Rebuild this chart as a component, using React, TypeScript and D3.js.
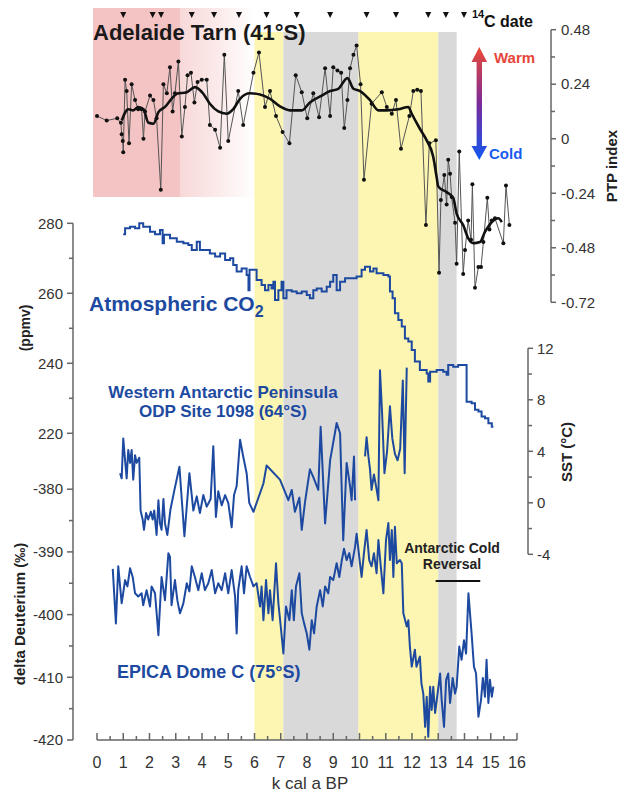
import React from 'react';
import * as d3 from 'd3';

// ---------- data (age in kyr cal BP, value) ----------
const ageTicks = d3.range(0, 17);
const ageMinorTicks = d3.range(0.5, 16, 1);

const radiocarbonDates = [1.0, 2.12, 2.44, 3.61, 4.46, 5.41, 6.46, 7.61, 8.88, 10.27, 11.39, 12.62, 13.29, 13.98];

const warmInterval: [number, number] = [-0.15, 6.0];
const yellowBands: [number, number][] = [[6.0, 7.1], [9.95, 13.0]];
const grayBands: [number, number][] = [[7.1, 9.95], [13.0, 13.7]];

const ptpTicks = [0.48, 0.24, 0, -0.24, -0.48, -0.72];
const ptpTickLabels = ['0.48', '0.24', '0', '-0.24', '-0.48', '-0.72'];
const ptpMinorTicks = [0.36, 0.12, -0.12, -0.36, -0.6];

const co2Ticks = [280, 260, 240, 220];
const co2MinorTicks = [270, 250, 230];
const deutTicks = [-380, -390, -400, -410, -420];
const deutMinorTicks = [-385, -395, -405, -415];
const sstTicks = [12, 8, 4, 0, -4];
const sstMinorTicks = [10, 6, 2, -2];

const ptpRecord: [number, number][] = [
  [0.0, 0.10], [0.37, 0.08], [0.77, 0.09], [0.91, 0.07], [0.94, 0.02], [0.98, -0.01], [1.0, -0.06],
  [1.07, 0.26], [1.13, 0.21], [1.22, -0.02], [1.32, 0.24], [1.45, 0.17], [1.57, 0.13], [1.70, 0.13],
  [1.77, 0.0], [1.83, 0.12], [2.02, 0.19], [2.15, 0.17], [2.27, 0.09], [2.43, -0.225], [2.53, 0.24],
  [2.66, 0.20], [2.78, 0.315], [2.88, 0.12], [2.97, 0.20], [3.10, 0.34], [3.23, 0.01], [3.35, 0.14],
  [3.45, 0.28], [3.58, 0.29], [3.71, 0.16], [3.83, 0.25], [3.99, 0.26], [4.18, 0.26], [4.30, 0.06],
  [4.50, 0.04], [4.69, -0.04], [4.85, 0.37], [5.00, -0.01], [5.38, 0.21], [5.57, 0.06], [5.96, 0.29],
  [6.17, 0.38], [6.40, 0.14], [6.59, 0.21], [6.82, 0.10], [7.07, 0.03], [7.33, -0.02], [7.57, 0.28],
  [7.80, 0.205], [8.01, 0.09], [8.24, 0.20], [8.46, 0.095], [8.69, 0.31], [8.88, 0.10], [9.00, 0.315],
  [9.16, 0.30], [9.30, 0.29], [9.42, 0.047], [9.54, 0.17], [9.64, 0.31], [9.77, 0.37], [9.89, 0.41],
  [10.04, 0.24], [10.17, -0.18], [10.46, 0.154], [10.85, 0.205], [11.04, 0.14], [11.23, 0.11],
  [11.39, 0.17], [11.58, -0.044], [11.90, 0.10], [12.05, 0.21], [12.20, 0.216], [12.34, 0.21],
  [12.53, -0.38], [12.66, -0.02], [12.91, -0.007], [13.03, -0.59], [13.10, -0.27], [13.23, -0.16],
  [13.32, -0.29], [13.38, -0.093], [13.45, -0.154], [13.51, -0.257], [13.64, -0.37], [13.70, -0.55],
  [13.80, -0.056], [13.95, -0.595], [14.02, -0.49], [14.14, -0.36], [14.25, -0.445], [14.30, -0.20],
  [14.40, -0.656], [14.53, -0.565], [14.63, -0.565], [14.72, -0.455], [14.87, -0.26], [14.95, -0.40],
  [15.04, -0.36], [15.16, -0.35], [15.48, -0.46], [15.58, -0.206], [15.71, -0.38],
];

const ptpSmoothed: [number, number][] = [
  [0.94, 0.08], [1.19, 0.13], [1.38, 0.125], [1.57, 0.14], [1.77, 0.13], [1.96, 0.07], [2.15, 0.066],
  [2.34, 0.117], [2.59, 0.14], [2.84, 0.176], [3.04, 0.198], [3.42, 0.205], [3.73, 0.227], [4.05, 0.198],
  [4.30, 0.154], [4.62, 0.12], [4.94, 0.11], [5.19, 0.13], [5.45, 0.176], [5.83, 0.20], [6.21, 0.195],
  [6.59, 0.176], [6.97, 0.142], [7.35, 0.125], [7.80, 0.125], [8.11, 0.16], [8.50, 0.186], [8.88, 0.21],
  [9.19, 0.22], [9.54, 0.267], [9.77, 0.22], [10.02, 0.21], [10.40, 0.17], [10.72, 0.125], [11.04, 0.125],
  [11.48, 0.13], [11.86, 0.14], [11.99, 0.11], [12.30, 0.044], [12.56, -0.007], [12.81, -0.08],
  [12.94, -0.17], [13.0, -0.21], [13.32, -0.235], [13.57, -0.26], [13.70, -0.33], [13.95, -0.38],
  [14.15, -0.44], [14.34, -0.46], [14.59, -0.455], [14.78, -0.41], [15.04, -0.367], [15.29, -0.35],
  [15.42, -0.367],
];

const co2Record: [number, number][] = [
  [1.0, 276.9], [1.07, 278.6], [1.26, 279], [1.45, 278.6], [1.61, 280], [1.76, 279], [2.02, 277.6],
  [2.21, 276.9], [2.40, 278.1], [2.50, 274.3], [2.55, 276.7], [2.78, 275.7], [3.04, 274.7], [3.29, 274.3],
  [3.48, 273.8], [3.61, 272.4], [3.80, 274.7], [3.92, 272.4], [4.11, 272.4], [4.30, 271.4], [4.50, 270.5],
  [4.69, 271.4], [4.88, 269.5], [5.07, 270], [5.19, 268.1], [5.32, 266.2], [5.51, 267.1], [5.70, 265.2],
  [5.77, 260.9], [5.81, 266.7], [5.96, 266.7], [6.08, 263.8], [6.27, 262.4], [6.40, 260.9], [6.53, 262.4],
  [6.65, 261.4], [6.72, 263.3], [6.78, 258.1], [6.91, 260.9], [7.03, 263.3], [7.10, 258.6], [7.22, 260.9],
  [7.42, 260.5], [7.61, 260], [7.80, 260.5], [7.99, 259.5], [8.11, 258.6], [8.24, 260.9], [8.37, 261.4],
  [8.56, 260.5], [8.75, 261.9], [8.88, 263.3], [9.0, 265.2], [9.13, 260.9], [9.26, 263.3], [9.45, 264.3],
  [9.64, 264.3], [9.89, 264.8], [10.08, 266.7], [10.21, 267.6], [10.40, 266.2], [10.53, 267.1],
  [10.65, 265.7], [10.91, 265.2], [11.10, 264.8], [11.16, 260.5], [11.26, 258.6], [11.35, 254.3],
  [11.48, 252.4], [11.61, 250.5], [11.73, 247.1], [11.86, 246.2], [11.99, 243.8], [12.11, 240.5],
  [12.30, 238.1], [12.56, 237.1], [12.62, 234.8], [12.69, 237.6], [12.94, 238.1], [13.19, 237.6],
  [13.32, 236.7], [13.38, 239.5], [13.57, 239], [13.76, 239.5], [14.06, 239.5], [14.08, 229],
  [14.27, 228.6], [14.40, 226.7], [14.53, 226.2], [14.65, 224.8], [14.78, 224.3], [14.91, 222.9],
  [15.04, 221.9], [15.10, 221.9],
];

const sstHolocene: [number, number][] = [
  [0.88, 2.3], [0.94, 1.9], [1.0, 5.0], [1.07, 3.3], [1.13, 1.9], [1.19, 4.1], [1.26, 3.1], [1.32, 4.1],
  [1.38, 1.8], [1.45, 3.7], [1.51, 3.1], [1.61, 3.5], [1.66, -0.6], [1.74, -1.3], [1.79, -2.1], [1.87, -0.8],
  [1.95, -1.3], [2.05, -0.7], [2.12, -1.3], [2.18, -0.6], [2.27, -2.5], [2.34, 0.2], [2.40, -1.6],
  [2.46, -2.1], [2.53, 0.3], [2.59, -1.6], [2.68, -2.5], [2.80, -0.5], [2.95, 1.0], [3.14, 2.8],
  [3.33, -2.6], [3.52, 2.3], [3.67, -0.6], [3.80, 0.5], [3.92, -0.8], [4.05, 0.6], [4.18, -0.3],
  [4.33, 0.3], [4.43, 4.4], [4.53, -1.1], [4.62, 0.9], [4.75, -0.2], [4.88, 0.6], [5.0, 0.0], [5.13, -1.9],
  [5.22, 0.6], [5.32, 1.3], [5.45, 4.9], [5.57, 3.6], [5.70, 2.3], [5.80, 0.0], [5.96, -0.7], [6.34, 1.5],
  [6.46, 2.9], [6.97, 1.8], [7.29, 0.2], [7.42, 1.0], [7.54, -0.7], [7.71, 0.4], [7.80, -2.1], [7.92, 0.0],
  [8.11, 2.6], [8.24, 2.0], [8.43, 1.0], [8.52, 5.9], [8.69, -1.6], [8.88, 3.3], [9.13, 6.2], [9.26, 5.4],
  [9.38, -2.9], [9.51, 3.1], [9.64, 1.3], [9.70, 0.2], [9.79, 3.6], [9.83, 0.2],
];

const sstDeglacial: [number, number][] = [
  [10.21, 3.6], [10.27, 5.1], [10.34, 3.6], [10.40, 2.6], [10.46, 1.0], [10.55, 2.2], [10.63, 1.3],
  [10.72, 0.2], [10.78, 10.3], [10.86, 7.0], [10.95, 2.3], [11.05, 4.0], [11.16, 7.5], [11.25, 5.0],
  [11.35, 3.8], [11.45, 3.3], [11.55, 4.2], [11.65, 9.5], [11.72, 2.3], [11.80, 10.5],
];

const deuteriumRecord: [number, number][] = [
  [0.60, -392.7], [0.72, -401.4], [0.81, -392.3], [0.94, -398.2], [1.07, -394.5], [1.16, -395.5],
  [1.26, -392.6], [1.36, -394], [1.45, -396.6], [1.57, -397.1], [1.70, -396.6], [1.76, -398.5],
  [1.89, -396.1], [2.02, -398.7], [2.08, -395.5], [2.21, -396.6], [2.34, -403.3], [2.46, -394],
  [2.59, -397.7], [2.72, -390.2], [2.78, -390.8], [2.84, -398.5], [2.97, -394.5], [3.06, -397.7],
  [3.16, -399.8], [3.29, -398.2], [3.42, -395], [3.52, -396.3], [3.61, -392.3], [3.73, -394],
  [3.86, -396.1], [3.99, -393.4], [4.11, -396.1], [4.24, -395], [4.37, -392.9], [4.50, -396.6],
  [4.62, -395], [4.75, -396.1], [4.88, -393.4], [5.0, -396.6], [5.13, -392.9], [5.26, -397.1],
  [5.32, -403], [5.38, -396.1], [5.51, -392.3], [5.60, -396.6], [5.70, -392.3], [5.83, -394],
  [5.96, -395.5], [6.08, -395], [6.21, -398.7], [6.27, -395.5], [6.34, -400.9], [6.44, -394.5],
  [6.53, -399.8], [6.59, -396.1], [6.69, -400.9], [6.82, -391.8], [6.91, -398.2], [7.0, -401.9],
  [7.10, -406.2], [7.20, -398.7], [7.33, -400.9], [7.42, -396.1], [7.50, -400.9], [7.58, -395.5],
  [7.71, -393.4], [7.80, -399.8], [7.89, -401.4], [7.99, -403], [8.09, -405.6], [8.18, -400.9],
  [8.27, -403], [8.37, -398.7], [8.50, -396.1], [8.60, -398.7], [8.69, -395.5], [8.81, -396.6],
  [8.88, -394], [9.0, -394.5], [9.13, -391.8], [9.23, -394], [9.32, -391.5], [9.41, -389.5],
  [9.51, -391.3], [9.61, -390.2], [9.70, -392.3], [9.83, -389.2], [9.89, -387.1], [9.99, -390.8],
  [10.08, -394], [10.17, -390.2], [10.27, -386.5], [10.37, -391.3], [10.46, -392.3], [10.55, -390.2],
  [10.65, -393.4], [10.72, -388.1], [10.81, -392.3], [10.91, -396.6], [11.01, -388.1], [11.10, -385.4],
  [11.16, -391.3], [11.23, -386.5], [11.29, -394], [11.35, -386], [11.42, -391.8], [11.54, -391.3],
  [11.61, -391.8], [11.67, -399.8], [11.80, -401.9], [11.86, -400.9], [11.92, -405.1], [11.99, -408.3],
  [12.11, -405.6], [12.17, -408.3], [12.30, -406.7], [12.36, -411], [12.43, -412.6], [12.50, -417.9],
  [12.56, -413.1], [12.62, -419.5], [12.69, -411.5], [12.75, -415.2], [12.81, -411.5], [12.88, -415.7],
  [12.96, -413.1], [13.07, -409.4], [13.13, -413.6], [13.22, -417.9], [13.30, -410.4], [13.38, -409.4],
  [13.45, -414.1], [13.55, -410.1], [13.64, -412.6], [13.70, -411.5], [13.80, -405.1], [13.89, -407.2],
  [13.98, -404.1], [14.06, -406.2], [14.15, -396.6], [14.27, -403], [14.36, -408.3], [14.44, -409.4],
  [14.53, -416.3], [14.63, -413.6], [14.70, -410.1], [14.78, -413.1], [14.84, -407.2], [14.91, -414.1],
  [14.97, -410.4], [15.04, -413.1], [15.10, -411.5],
];

const antarcticColdReversal: [number, number] = [12.9, 14.6];

// ---------- styling ----------
const FONT = "'Liberation Sans', Arial, Helvetica, sans-serif";
const BLUE = '#1d4aa0';
const AXIS = '#666';
const TICK_TEXT = '#333';

export default function App() {
  const x = d3.scaleLinear().domain([0, 16]).range([97, 517]);
  const yPtp = d3.scaleLinear().domain([-0.72, 0.48]).range([302.3, 29.7]);
  const yCo2 = d3.scaleLinear().domain([220, 280]).range([433.3, 223.3]);
  const ySst = d3.scaleLinear().domain([-4, 12]).range([554.3, 348.3]);
  const yDeut = d3.scaleLinear().domain([-420, -380]).range([740, 489.2]);

  const ptpRaw = d3.line<[number, number]>().x(d => x(d[0])).y(d => yPtp(d[1]));
  const ptpSmooth = d3.line<[number, number]>().x(d => x(d[0])).y(d => yPtp(d[1])).curve(d3.curveMonotoneX);
  const co2Line = d3.line<[number, number]>().x(d => x(d[0])).y(d => yCo2(d[1])).curve(d3.curveStepAfter);
  const sstLine = d3.line<[number, number]>().x(d => x(d[0])).y(d => ySst(d[1]));
  const deutLine = d3.line<[number, number]>().x(d => x(d[0])).y(d => yDeut(d[1]));

  const bandTop = 32;
  const bandBottom = 740;
  const leftSpine = 73;
  const ptpSpine = 551;
  const sstSpine = 528;
  const axisY = 740;

  const warmX0 = x(warmInterval[0]);
  const warmX1 = x(warmInterval[1]);

  return (
    <svg width={619} height={796} style={{ position: 'absolute', left: 0, top: 0 }} fontFamily={FONT}>
      <defs>
        <linearGradient id="warmFade" gradientUnits="userSpaceOnUse" x1={warmX0} x2={warmX1} y1={0} y2={0}>
          <stop offset="0" stopColor="#f4c3c3" />
          <stop offset="0.535" stopColor="#f4c3c3" />
          <stop offset="0.54" stopColor="#f8d9d9" />
          <stop offset="0.75" stopColor="#fbe8e8" />
          <stop offset="1" stopColor="#ffffff" />
        </linearGradient>
        <linearGradient id="tempArrow" x1="0" x2="0" y1="0" y2="1">
          <stop offset="0" stopColor="#ec4a35" />
          <stop offset="0.5" stopColor="#7a2a9a" />
          <stop offset="1" stopColor="#1158f2" />
        </linearGradient>
      </defs>

      {/* warm-period shading */}
      <rect x={warmX0} y={8} width={warmX1 - warmX0} height={189} fill="url(#warmFade)" />

      {/* climate interval bands */}
      {yellowBands.map((b, i) => (
        <rect key={'y' + i} x={x(b[0])} y={bandTop} width={x(b[1]) - x(b[0])} height={bandBottom - bandTop} fill="#fcf6b2" />
      ))}
      {grayBands.map((b, i) => (
        <rect key={'g' + i} x={x(b[0])} y={bandTop} width={x(b[1]) - x(b[0])} height={bandBottom - bandTop} fill="#d9d9d9" />
      ))}

      {/* radiocarbon dates */}
      {radiocarbonDates.map((d, i) => (
        <path key={'c' + i} d={`M${x(d) - 3},12 L${x(d) + 3},12 L${x(d)},18 Z`} fill="#111" />
      ))}
      <text x={472} y={18} fontSize={11} fontWeight="bold" fill="#111">14</text>
      <text x={484} y={27} fontSize={16} fontWeight="bold" fill="#111">C date</text>

      <text x={93} y={40} fontSize={22} fontWeight="bold" fill="#1a1a1a">Adelaide Tarn (41°S)</text>

      {/* PTP index record */}
      <path d={ptpRaw(ptpRecord) || ''} fill="none" stroke="#555" strokeWidth={1} />
      {ptpRecord.map((d, i) => (
        <circle key={'p' + i} cx={x(d[0])} cy={yPtp(d[1])} r={2} fill="#111" />
      ))}
      <path d={ptpSmooth(ptpSmoothed) || ''} fill="none" stroke="#111" strokeWidth={2.6} strokeLinejoin="round" />

      {/* warm / cold arrow */}
      <path d="M476.6,62 L476.6,146 L471.5,146 L479.3,160 L487.1,146 L482,146 L482,62 L487.1,62 L479.3,47 L471.5,62 Z" fill="url(#tempArrow)" />
      <text x={494} y={63} fontSize={15} fontWeight="bold" fill="#e8453a">Warm</text>
      <text x={489} y={159} fontSize={15} fontWeight="bold" fill="#1a5cf0">Cold</text>

      {/* PTP axis */}
      <line x1={ptpSpine} x2={ptpSpine} y1={yPtp(0.48)} y2={yPtp(-0.72)} stroke={AXIS} strokeWidth={1.5} />
      {ptpTicks.map((t, i) => (
        <g key={'pt' + i}>
          <line x1={ptpSpine} x2={ptpSpine + 5} y1={yPtp(t)} y2={yPtp(t)} stroke={AXIS} strokeWidth={1.5} />
          <text x={ptpSpine + 10} y={yPtp(t)} dy="0.35em" fontSize={15} fill={TICK_TEXT}>{ptpTickLabels[i]}</text>
        </g>
      ))}
      {ptpMinorTicks.map((t, i) => (
        <line key={'pm' + i} x1={ptpSpine} x2={ptpSpine + 4} y1={yPtp(t)} y2={yPtp(t)} stroke={AXIS} strokeWidth={1.5} />
      ))}
      <text transform="translate(612,166) rotate(-90)" textAnchor="middle" dy="0.35em" fontSize={15} fontWeight="bold" fill="#222">PTP index</text>

      {/* CO2 */}
      <path d={co2Line(co2Record) || ''} fill="none" stroke={BLUE} strokeWidth={2} />
      <text x={89} y={311} fontSize={21} fontWeight="bold" fill={BLUE}>
        Atmospheric CO<tspan fontSize={16} dy={6}>2</tspan>
      </text>

      {/* SST */}
      <path d={sstLine(sstHolocene) || ''} fill="none" stroke={BLUE} strokeWidth={2} strokeLinejoin="round" />
      <path d={sstLine(sstDeglacial) || ''} fill="none" stroke={BLUE} strokeWidth={2} strokeLinejoin="round" />
      <text x={223} y={398} textAnchor="middle" fontSize={17} fontWeight="bold" fill={BLUE}>Western Antarctic Peninsula</text>
      <text x={223} y={417} textAnchor="middle" fontSize={17} fontWeight="bold" fill={BLUE}>ODP Site 1098 (64°S)</text>

      <line x1={sstSpine} x2={sstSpine} y1={ySst(12)} y2={ySst(-4)} stroke={AXIS} strokeWidth={1.5} />
      {sstTicks.map((t, i) => (
        <g key={'st' + i}>
          <line x1={sstSpine} x2={sstSpine + 5} y1={ySst(t)} y2={ySst(t)} stroke={AXIS} strokeWidth={1.5} />
          <text x={sstSpine + 9} y={ySst(t)} dy="0.35em" fontSize={15} fill={TICK_TEXT}>{t}</text>
        </g>
      ))}
      {sstMinorTicks.map((t, i) => (
        <line key={'sm' + i} x1={sstSpine} x2={sstSpine + 4} y1={ySst(t)} y2={ySst(t)} stroke={AXIS} strokeWidth={1.5} />
      ))}
      <text transform="translate(567,452) rotate(-90)" textAnchor="middle" dy="0.35em" fontSize={15} fontWeight="bold" fill="#222">SST (°C)</text>

      {/* EPICA deuterium */}
      <path d={deutLine(deuteriumRecord) || ''} fill="none" stroke={BLUE} strokeWidth={2} strokeLinejoin="round" />
      <text x={117} y={678} fontSize={18} fontWeight="bold" fill={BLUE}>EPICA Dome C (75°S)</text>

      <text x={452} y={553} textAnchor="middle" fontSize={14} fontWeight="bold" fill="#222">Antarctic Cold</text>
      <text x={452} y={569} textAnchor="middle" fontSize={14} fontWeight="bold" fill="#222">Reversal</text>
      <line x1={x(antarcticColdReversal[0])} x2={x(antarcticColdReversal[1])} y1={581} y2={581} stroke="#111" strokeWidth={2} />

      {/* left axis: CO2 and deuterium */}
      <line x1={leftSpine} x2={leftSpine} y1={yCo2(280)} y2={yDeut(-420)} stroke={AXIS} strokeWidth={1.5} />
      {co2Ticks.map((t, i) => (
        <g key={'ct' + i}>
          <line x1={leftSpine - 6} x2={leftSpine} y1={yCo2(t)} y2={yCo2(t)} stroke={AXIS} strokeWidth={1.5} />
          <text x={leftSpine - 10} y={yCo2(t)} dy="0.35em" textAnchor="end" fontSize={15} fill={TICK_TEXT}>{t}</text>
        </g>
      ))}
      {co2MinorTicks.map((t, i) => (
        <line key={'cm' + i} x1={leftSpine - 4} x2={leftSpine} y1={yCo2(t)} y2={yCo2(t)} stroke={AXIS} strokeWidth={1.5} />
      ))}
      {deutTicks.map((t, i) => (
        <g key={'dt' + i}>
          <line x1={leftSpine - 6} x2={leftSpine} y1={yDeut(t)} y2={yDeut(t)} stroke={AXIS} strokeWidth={1.5} />
          <text x={leftSpine - 10} y={yDeut(t)} dy="0.35em" textAnchor="end" fontSize={15} fill={TICK_TEXT}>{t}</text>
        </g>
      ))}
      {deutMinorTicks.map((t, i) => (
        <line key={'dm' + i} x1={leftSpine - 4} x2={leftSpine} y1={yDeut(t)} y2={yDeut(t)} stroke={AXIS} strokeWidth={1.5} />
      ))}
      <text transform="translate(25,328) rotate(-90)" textAnchor="middle" dy="0.35em" fontSize={14} fontWeight="bold" fill="#222">(ppmv)</text>
      <text transform="translate(20,614) rotate(-90)" textAnchor="middle" dy="0.35em" fontSize={15} fontWeight="bold" fill="#222">delta Deuterium (‰)</text>

      {/* age axis */}
      <line x1={x(0)} x2={x(16)} y1={axisY} y2={axisY} stroke={AXIS} strokeWidth={1.5} />
      {ageTicks.map(t => (
        <g key={'a' + t}>
          <line x1={x(t)} x2={x(t)} y1={axisY} y2={axisY - 7} stroke={AXIS} strokeWidth={1.5} />
          <text x={x(t)} y={768} textAnchor="middle" fontSize={16} fill={TICK_TEXT}>{t}</text>
        </g>
      ))}
      {ageMinorTicks.map(t => (
        <line key={'am' + t} x1={x(t)} x2={x(t)} y1={axisY} y2={axisY - 4} stroke={AXIS} strokeWidth={1.5} />
      ))}
      <text x={310} y={789} textAnchor="middle" fontSize={17} fill={TICK_TEXT}>k cal a BP</text>
    </svg>
  );
}
